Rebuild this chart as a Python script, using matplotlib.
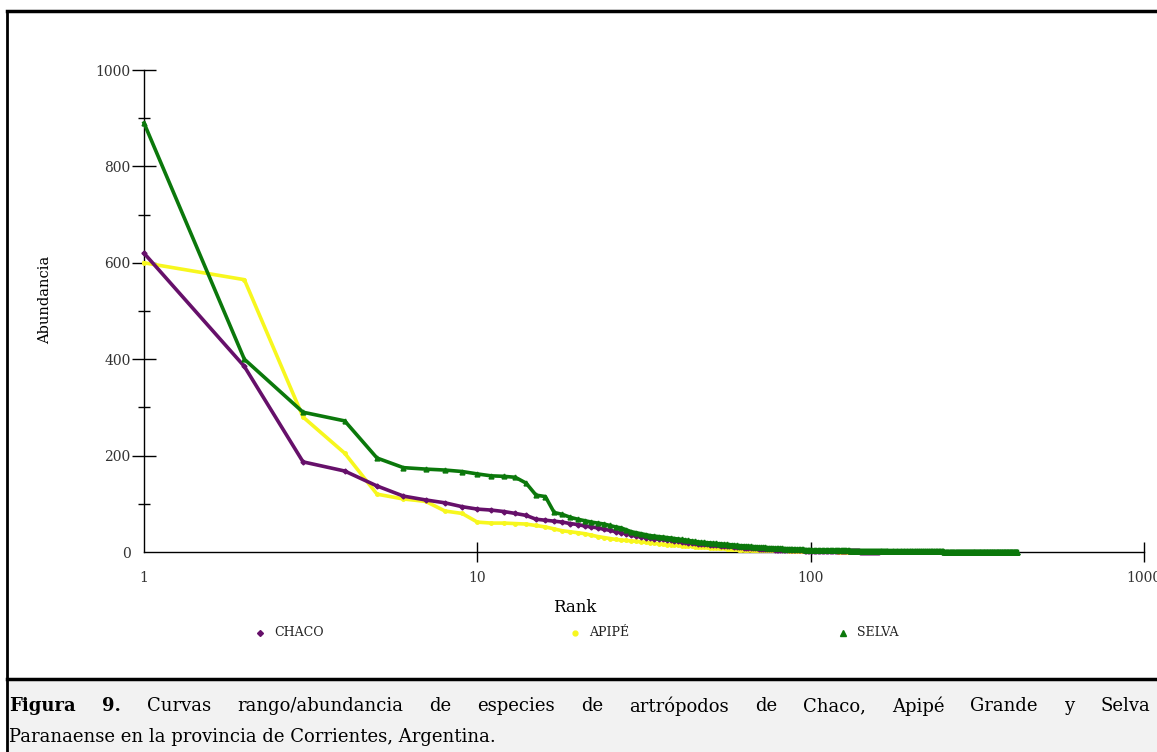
import numpy as np
import matplotlib
matplotlib.use("Agg")
import matplotlib.pyplot as plt
from matplotlib.lines import Line2D
from matplotlib.patches import Rectangle

# abundance per rank (head of each curve), then the tail as abundance x number of species
chaco_head = [620, 385, 187, 168, 137, 116, 108, 102, 94, 89, 87, 84, 80, 76, 68,
              66, 64, 62, 59, 57, 54, 52, 50, 47, 45, 42, 40, 38, 35, 33,
              31, 30, 29, 28, 27, 26, 25, 24, 23, 22, 21, 20, 19, 18, 18,
              17, 17, 16, 16, 15, 15, 14, 14, 13, 13, 12, 12, 12, 11, 11,
              10, 10, 9, 9, 9, 8, 8, 8, 8, 7, 7, 7, 7, 6, 6, 6, 6, 5, 5, 5]
chaco_tail_abund = [4, 3, 2, 1]
chaco_tail_count = [15, 20, 25, 20]

apipe_head = [600, 565, 280, 205, 120, 110, 105, 85, 80, 62, 60, 60, 59, 58, 55,
              52, 48, 44, 42, 40, 38, 35, 32, 30, 28, 26, 25, 24, 23, 22,
              21, 20, 19, 18, 17, 16, 15, 15, 14, 14, 13, 13, 12, 12, 11,
              11, 10, 10, 10, 9, 9, 9, 8, 8, 8, 7, 7, 7, 6, 6]
apipe_tail_abund = [5, 4, 3, 2, 1]
apipe_tail_count = [10, 15, 15, 20, 10]

selva_head = [890, 400, 290, 272, 195, 175, 172, 170, 167, 162, 158, 157, 155, 143, 118,
              115, 82, 78, 72, 68, 65, 62, 60, 58, 55, 52, 50, 46, 42, 40,
              38, 36, 34, 33, 32, 31, 30, 29, 28, 27, 26, 25, 24, 23, 22,
              21, 20, 20, 19, 19, 18, 18, 17, 17, 16, 16, 15, 15, 14, 14,
              13, 13, 13, 12, 12, 12, 11, 11, 11, 10, 10, 10, 10, 9, 9,
              9, 9, 8, 8, 8, 8, 8, 7, 7, 7, 7, 7, 7, 6, 6,
              6, 6, 6, 6, 6, 5, 5, 5, 5, 5]
selva_tail_abund = [4, 3, 2, 1]
selva_tail_count = [30, 40, 80, 167]

labels = ["CHACO", "APIPÉ", "SELVA"]
y_ticks = [0, 200, 400, 600, 800, 1000]
x_ticks = [1, 10, 100, 1000]

purple = "#66106a"
yellow = "#f7f71e"
green = "#0b780b"


def curve(head, tail_abund, tail_count):
    ab = np.concatenate([head, np.repeat(tail_abund, tail_count)])
    return np.arange(1, len(ab) + 1), ab


serif = "DejaVu Serif"
cap_font = "DejaVu Serif"
fig = plt.figure(figsize=(11.57, 7.52), dpi=100)
W, H = 1157, 752

# caption box and outer frame
fig.patches.append(Rectangle((7 / W, 0), 1, 72 / H, transform=fig.transFigure,
                             facecolor="#f2f2f2", edgecolor="none", zorder=0))
fig.add_artist(Line2D([7 / W, 1], [1 - 11 / H, 1 - 11 / H], color="black", lw=2.5))
fig.add_artist(Line2D([7 / W, 1], [73 / H, 73 / H], color="black", lw=2.5))
fig.add_artist(Line2D([7 / W, 7 / W], [0, 1 - 11 / H], color="black", lw=2.0))

ax = fig.add_axes([144 / W, 1 - 552 / H, 1000 / W, 482 / H])

r, a = curve(apipe_head, apipe_tail_abund, apipe_tail_count)
ax.plot(r, a, color=yellow, lw=2.6, marker="o", ms=2.5, zorder=3, clip_on=False)
r, a = curve(chaco_head, chaco_tail_abund, chaco_tail_count)
ax.plot(r, a, color=purple, lw=2.6, marker="D", ms=2.5, zorder=4, clip_on=False)
r, a = curve(selva_head, selva_tail_abund, selva_tail_count)
ax.plot(r, a, color=green, lw=2.6, marker="^", ms=3.5, zorder=5, clip_on=False)

ax.set_xscale("log")
ax.set_xlim(1, 1000)
ax.set_ylim(0, 1000)
for s in ["top", "right"]:
    ax.spines[s].set_visible(False)
ax.spines["left"].set_linewidth(1)
ax.spines["bottom"].set_linewidth(1)

ax.set_yticks(y_ticks)
ax.set_yticks([100, 300, 500, 700, 900], minor=True)
ax.set_xticks(x_ticks)
ax.set_xticklabels([str(t) for t in x_ticks])
ax.xaxis.set_minor_locator(matplotlib.ticker.NullLocator())
ax.tick_params(axis="y", which="major", direction="inout", length=17, width=1,
               labelsize=10, labelcolor="#333333", pad=1)
ax.tick_params(axis="y", which="minor", direction="inout", length=9, width=1)
ax.tick_params(axis="x", which="major", direction="inout", length=14, width=1,
               labelsize=10, labelcolor="#333333", pad=7)
ax.xaxis.get_major_ticks()[0].tick1line.set_visible(False)
ax.xaxis.get_major_ticks()[0].tick2line.set_visible(False)
ax.yaxis.get_major_ticks()[0].tick1line.set_visible(False)
for t in ax.get_xticklabels() + ax.get_yticklabels():
    t.set_family(serif)

fig.text(45 / W, 1 - 300 / H, "Abundancia", rotation=90, ha="center", va="center",
         family=serif, fontsize=10.5)
fig.text(575 / W, 1 - 608 / H, "Rank", ha="center", va="center",
         family=serif, fontsize=12)

# legend entries
colors = [purple, yellow, green]
markers = ["D", "o", "^"]
ms = [3, 3.5, 4.5]
xs = [260, 575, 843]
for lab, c, m, s, x in zip(labels, colors, markers, ms, xs):
    fig.add_artist(Line2D([x / W], [1 - 633 / H], color=c, marker=m, ms=s, ls="none"))
    fig.text((x + 14) / W, 1 - 633 / H, lab, ha="left", va="center",
             family=serif, fontsize=9, color="#222222")

# justified caption
line1 = [("Figura", True), ("9.", True), ("Curvas", False), ("rango/abundancia", False),
         ("de", False), ("especies", False), ("de", False), ("artrópodos", False),
         ("de", False), ("Chaco,", False), ("Apipé", False), ("Grande", False),
         ("y", False), ("Selva", False)]
line2 = "Paranaense en la provincia de Corrientes, Argentina."

fig.canvas.draw()
renderer = fig.canvas.get_renderer()
cap_size = 13
x0, x1 = 9, 1150
words = []
for w, b in line1:
    t = fig.text(0, 1 - 706 / H, w, family=cap_font, fontsize=cap_size,
                 fontweight="bold" if b else "normal", va="center", ha="left")
    words.append(t)
widths = [t.get_window_extent(renderer).width for t in words]
gap = (x1 - x0 - sum(widths)) / (len(words) - 1)
x = x0
for t, w in zip(words, widths):
    t.set_x(x / W)
    x += w + gap
fig.text(x0 / W, 1 - 737 / H, line2, family=cap_font, fontsize=cap_size,
         va="center", ha="left")

fig.savefig("out.png", dpi=100)
